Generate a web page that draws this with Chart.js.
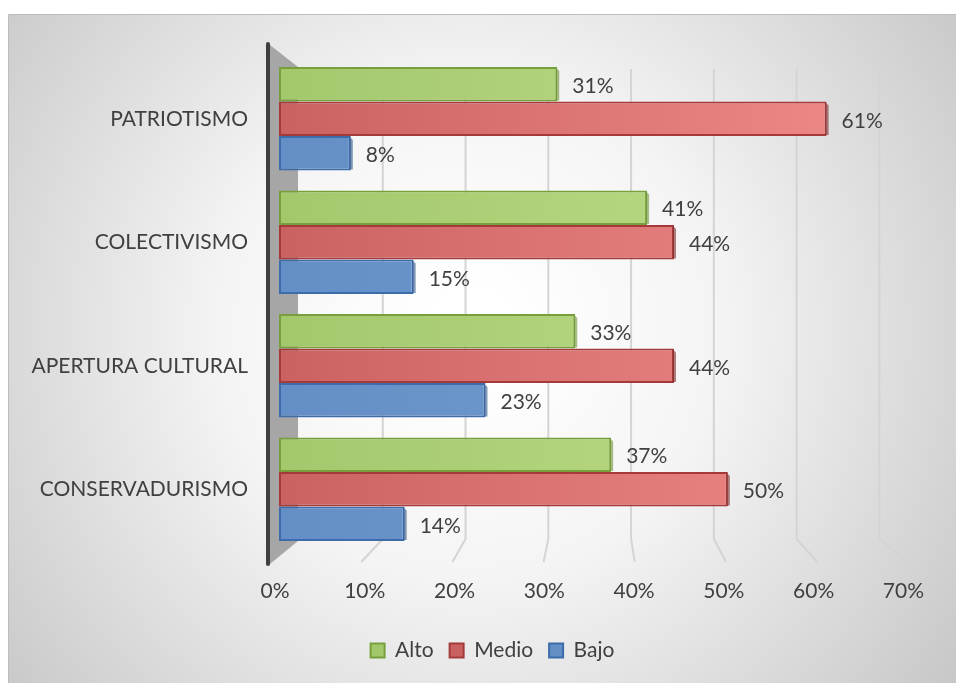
<!DOCTYPE html>
<html>
<head>
<meta charset="utf-8">
<script src="https://cdn.jsdelivr.net/npm/chart.js@4.4.1/dist/chart.umd.min.js"></script>
<style>
  html, body { margin: 0; padding: 0; background: #ffffff; }
  #wrap { width: 956px; height: 683px; position: relative; }
</style>
</head>
<body>
<div id="wrap"><canvas id="chart" width="956" height="683"></canvas></div>
<script>
// Values per dimension, in percent
const categories = ['PATRIOTISMO', 'COLECTIVISMO', 'APERTURA CULTURAL', 'CONSERVADURISMO'];
const seriesNames = ['Alto', 'Medio', 'Bajo'];
const alto  = [31, 41, 33, 37];
const medio = [61, 44, 44, 50];
const bajo  = [8, 15, 23, 14];
const xTickValues = [0, 10, 20, 30, 40, 50, 60, 70];

const FONT = 'Lato, "Open Sans", sans-serif';
const FONT_SIZE = 21;
const TEXT = '#404040';

const palette = {
  Alto:  { from: '#a3c86c', to: '#c1df8c', border: '#77a03d', side: '#6f9536' },
  Medio: { from: '#cb6262', to: '#f08c8a', border: '#a63a3a', side: '#7e2c2c' },
  Bajo:  { from: '#638fc6', to: '#77a2d6', border: '#3d6cab', side: '#2f5587' }
};

function barFill(name) {
  return function (ctx) {
    const area = ctx.chart.chartArea;
    if (!area) return palette[name].from;
    const g = ctx.chart.ctx.createLinearGradient(area.left, 0, area.right, 0);
    g.addColorStop(0, palette[name].from);
    g.addColorStop(1, palette[name].to);
    return g;
  };
}

// Framed panel with a soft radial shading
const panelBackground = {
  id: 'panelBackground',
  beforeDraw(chart) {
    const c = chart.ctx;
    c.save();
    c.fillStyle = '#ffffff';
    c.fillRect(0, 0, chart.width, chart.height);
    const g = c.createRadialGradient(470, 330, 40, 470, 330, 640);
    g.addColorStop(0, '#ffffff');
    g.addColorStop(0.35, '#f4f4f4');
    g.addColorStop(1, '#c2c2c2');
    c.fillStyle = g;
    c.fillRect(8, 14, chart.width - 8, chart.height - 14);
    c.strokeStyle = '#bdbdbd';
    c.lineWidth = 1;
    c.beginPath();
    c.moveTo(8.5, chart.height);
    c.lineTo(8.5, 14.5);
    c.lineTo(chart.width, 14.5);
    c.stroke();
    c.restore();
  }
};

// Centre the legend under the whole panel rather than the padded area
const legendShift = {
  id: 'legendShift',
  afterLayout(chart) {
    const lg = chart.legend;
    if (!lg) return;
    const dx = 38;
    lg.left += dx;
    lg.right += dx;
    (lg.legendHitBoxes || []).forEach(b => { b.left += dx; });
  }
};

// Back wall, side wall and floor gridlines of the box
const boxGrid = {
  id: 'boxGrid',
  beforeDatasetsDraw(chart) {
    const c = chart.ctx;
    const xs = chart.scales.x;
    const area = chart.chartArea;
    const x0 = xs.getPixelForValue(0);
    const x70 = xs.getPixelForValue(70);
    const backL = x0 + 21, backR = x70 - 28;
    const floorL = x0 - 9, floorR = x70 + 1;
    const backTop = area.top + 12, backBottom = area.bottom - 12, floorY = area.bottom + 11;
    c.save();
    // side wall
    c.fillStyle = '#a6a6a6';
    c.beginPath();
    c.moveTo(x0 - 9, area.top - 12);
    c.lineTo(backL - 2, backTop - 2);
    c.lineTo(backL - 2, backBottom + 2);
    c.lineTo(x0 - 9, floorY + 2);
    c.closePath();
    c.fill();
    // gridlines
    c.strokeStyle = '#d4d4d4';
    c.lineWidth = 2;
    xTickValues.slice(1).forEach(v => {
      const f = (xs.getPixelForValue(v) - x0) / (x70 - x0);
      const xb = backL + f * (backR - backL);
      const xf = floorL + f * (floorR - floorL);
      c.beginPath();
      c.moveTo(xb, backTop);
      c.lineTo(xb, backBottom);
      c.lineTo(xf, floorY);
      c.stroke();
    });
    // axis edge
    c.strokeStyle = '#3f3f3f';
    c.lineWidth = 4;
    c.lineCap = 'round';
    c.beginPath();
    c.moveTo(x0 - 11, area.top - 13);
    c.lineTo(x0 - 11, floorY + 2);
    c.stroke();
    c.restore();
  }
};

// Small depth face at the end of each bar, and value labels
const barDepthAndLabels = {
  id: 'barDepthAndLabels',
  afterDatasetsDraw(chart) {
    const c = chart.ctx;
    c.save();
    chart.data.datasets.forEach((ds, di) => {
      const meta = chart.getDatasetMeta(di);
      const pal = palette[ds.label];
      meta.data.forEach((el) => {
        const h = el.height;
        const top = el.y - h / 2, bot = el.y + h / 2;
        c.fillStyle = pal.side;
        c.globalAlpha = 0.6;
        c.beginPath();
        c.moveTo(el.x - 1, top + 1);
        c.lineTo(el.x + 2, top + 4);
        c.lineTo(el.x + 2, bot - 1);
        c.lineTo(el.x - 1, bot - 1);
        c.closePath();
        c.fill();
        c.globalAlpha = 1;
      });
    });
    c.fillStyle = TEXT;
    c.font = FONT_SIZE + 'px ' + FONT;
    c.textAlign = 'left';
    c.textBaseline = 'middle';
    chart.data.datasets.forEach((ds, di) => {
      const meta = chart.getDatasetMeta(di);
      meta.data.forEach((el, i) => {
        c.fillText(ds.data[i] + '%', el.x + 15, el.y + 2);
      });
    });
    c.restore();
  }
};

const datasets = [
  { label: seriesNames[0], data: alto },
  { label: seriesNames[1], data: medio },
  { label: seriesNames[2], data: bajo }
].map(d => Object.assign(d, {
  backgroundColor: barFill(d.label),
  borderColor: palette[d.label].border,
  borderWidth: 2,
  borderSkipped: false,
  barPercentage: 1.0,
  categoryPercentage: 0.84
}));

new Chart(document.getElementById('chart'), {
  type: 'bar',
  data: { labels: categories, datasets },
  options: {
    indexAxis: 'y',
    responsive: false,
    animation: false,
    devicePixelRatio: 1,
    layout: { padding: { top: 57, right: 47, bottom: 12, left: 0 } },
    scales: {
      x: {
        min: 0, max: 70,
        afterBuildTicks(scale) { scale.ticks = xTickValues.map(v => ({ value: v })); },
        afterFit(scale) { scale.height = 73; },
        grid: { display: false, drawTicks: false },
        border: { display: false },
        ticks: {
          padding: 28,
          labelOffset: -4,
          color: TEXT,
          font: { family: FONT, size: FONT_SIZE },
          callback: v => v + '%'
        }
      },
      y: {
        afterFit(scale) { scale.width = 279; },
        grid: { display: false, drawTicks: false },
        border: { display: false },
        ticks: {
          padding: 31,
          color: TEXT,
          font: { family: FONT, size: FONT_SIZE }
        }
      }
    },
    plugins: {
      tooltip: { enabled: false },
      legend: {
        position: 'bottom',
        labels: {
          color: TEXT,
          font: { family: FONT, size: FONT_SIZE },
          boxWidth: 14,
          boxHeight: 14,
          padding: 16,
          generateLabels(chart) {
            return chart.data.datasets.map((ds, i) => ({
              text: ds.label,
              fillStyle: palette[ds.label].from,
              strokeStyle: palette[ds.label].border,
              lineWidth: 2,
              fontColor: TEXT,
              datasetIndex: i,
              hidden: false
            }));
          }
        }
      }
    }
  },
  plugins: [panelBackground, legendShift, boxGrid, barDepthAndLabels]
});
</script>
</body>
</html>
